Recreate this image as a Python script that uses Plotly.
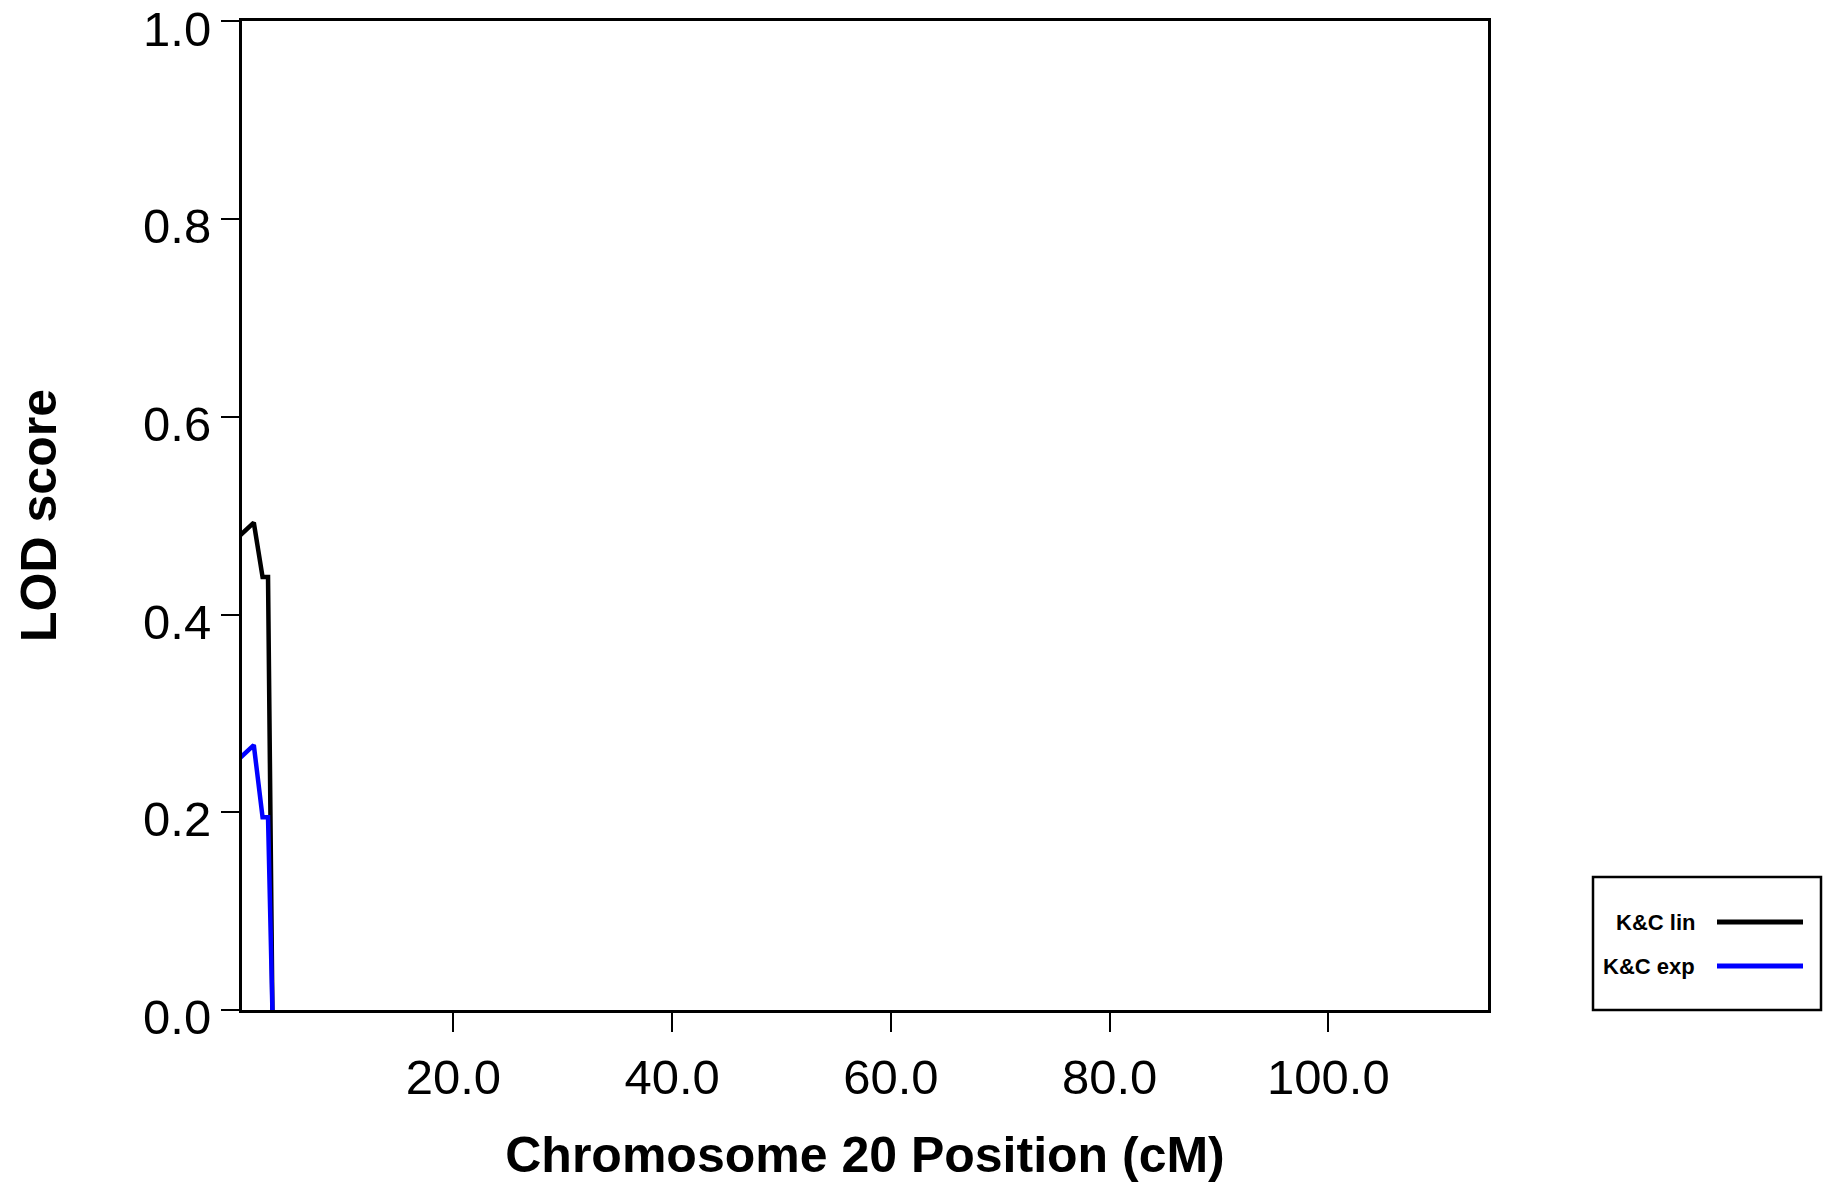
import plotly.graph_objects as go

# Data
position_cm = [0.0, 1.75, 2.55, 3.05, 3.45]
lod_lin = [0.475, 0.493, 0.438, 0.438, 0.0]
lod_exp = [0.250, 0.268, 0.195, 0.195, 0.0]
series_names = ["K&C lin", "K&C exp"]
series_colors = ["#000000", "#0000ff"]
x_tickvals = [20, 40, 60, 80, 100]
y_tickvals = [0.0, 0.2, 0.4, 0.6, 0.8, 1.0]

FONT = "Liberation Sans, Arial, sans-serif"
Y_RANGE = [0, 1.0005]

fig = go.Figure()
for name, vals, col in zip(series_names, [lod_lin, lod_exp], series_colors):
    fig.add_trace(go.Scatter(x=position_cm, y=vals, mode="lines", name=name,
                             line=dict(color=col, width=4.5), showlegend=False))

# body margin is removed (see post_script), so figure coords == page coords
W, H = 1830, 1186
L, R, T, B = 242, 1488, 21, 1010
LBL_DROP = 7  # y tick labels sit ~7px below their ticks in the reference
paper_h = (B + LBL_DROP) - T

fig.update_layout(
    width=W, height=H,
    margin=dict(l=L, r=W - R, t=T, b=H - (B + LBL_DROP), autoexpand=False),
    paper_bgcolor="white", plot_bgcolor="rgba(0,0,0,0)",
    font=dict(family=FONT, color="black", size=49),
    showlegend=False,
    xaxis=dict(range=[0.67, 114.6], tickvals=x_tickvals, tickformat=".1f",
               showgrid=False, zeroline=False, showline=True, linecolor="black",
               linewidth=2.5, mirror=True, ticks="outside", ticklen=19, tickwidth=2,
               tickcolor="black", tickfont=dict(size=49), ticklabelstandoff=3,
               title=dict(text="<b>Chromosome 20 Position (cM)</b>", font=dict(size=50), standoff=35)),
    yaxis=dict(domain=[LBL_DROP / paper_h, 1], range=Y_RANGE, tickvals=y_tickvals,
               showticklabels=False,
               showgrid=False, zeroline=False, showline=True, linecolor="black",
               linewidth=2.5, mirror=True, ticks="outside", ticklen=18, tickwidth=2,
               tickcolor="black",
               title=dict(text="<b>LOD score</b>", font=dict(size=50), standoff=149)),
    # label-only axis, shifted down so the labels sit slightly below their ticks
    yaxis2=dict(domain=[0, 1 - LBL_DROP / paper_h], range=Y_RANGE, tickvals=y_tickvals,
                tickformat=".1f", anchor="free", position=0, side="left",
                showgrid=False, zeroline=False, showline=False, ticks="outside",
                ticklen=18, tickcolor="rgba(0,0,0,0)", tickfont=dict(size=49),
                ticklabelstandoff=3, ticklabeloverflow="allow"),
)
# invisible helper trace so yaxis2 is drawn (tick labels only)
fig.add_trace(go.Scatter(x=[position_cm[0]], y=[lod_lin[0]], yaxis="y2", mode="lines",
                         line=dict(width=0), hoverinfo="skip", showlegend=False))

# Custom legend (text left, line sample right), placed relative to the plot area
pw, ph = R - L, B - T
def px(x):
    return (x - L) / pw
def py(y):
    return (B - y) / ph

fig.add_shape(type="rect", xref="x domain", yref="y domain",
              x0=px(1593), x1=px(1821), y0=py(1010), y1=py(877),
              line=dict(color="black", width=2.5), fillcolor="white")
for name, col, yc in zip(series_names, series_colors, [922, 966]):
    fig.add_shape(type="line", xref="x domain", yref="y domain",
                  x0=px(1717), x1=px(1803), y0=py(yc), y1=py(yc),
                  line=dict(color=col, width=5))
    fig.add_annotation(xref="x domain", yref="y domain", x=px(1697), y=py(yc),
                       text=f"<b>{name}</b>", showarrow=False, xanchor="right",
                       yanchor="middle", font=dict(size=22, color="black"))

fig.write_html("out.html", config={"displayModeBar": False},
               post_script="document.body.style.margin='0px';document.body.style.overflow='hidden';")
